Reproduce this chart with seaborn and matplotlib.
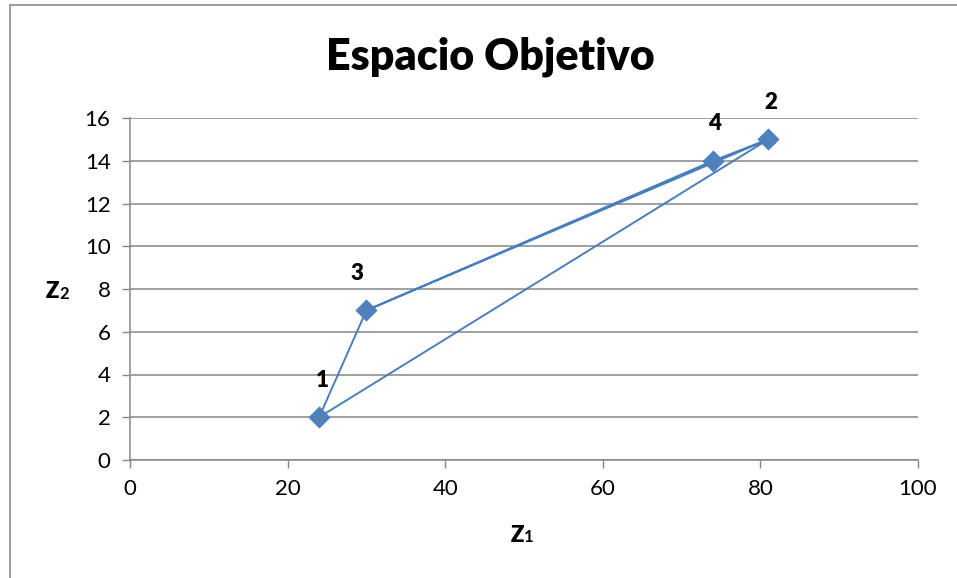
import matplotlib
matplotlib.use("Agg")
import matplotlib.pyplot as plt
import seaborn as sns
import pandas as pd
from matplotlib.patches import Rectangle

# Objective-space solutions (Z1, Z2) and the order in which they are joined
point_ids = ["1", "2", "3", "4"]
z1 = [24, 81, 30, 74]
z2 = [2, 15, 7, 14]
path_order = ["3", "1", "2", "4", "3", "2"]

x_ticks = [0, 20, 40, 60, 80, 100]
y_ticks = [0, 2, 4, 6, 8, 10, 12, 14, 16]
title = "Espacio Objetivo"
x_label = ("Z", "1")
y_label = ("Z", "2")

points = pd.DataFrame({"id": point_ids, "z1": z1, "z2": z2})
path = points.set_index("id").loc[path_order].reset_index()

sns.set_theme(style="white")
plt.rcParams["font.family"] = ["Lato", "DejaVu Sans"]
plt.rcParams["text.color"] = "black"

blue = "#4A7EBB"
marker_blue = "#4F81BD"
grid_gray = "#868686"

fig = plt.figure(figsize=(9.57, 5.78), dpi=100)
ax = fig.add_axes([130 / 957, 1 - 460 / 578, (918 - 130) / 957, (460 - 118) / 578])

sns.lineplot(data=path, x="z1", y="z2", sort=False, estimator=None,
             color=blue, linewidth=1.4, ax=ax, zorder=3)
sns.scatterplot(data=points, x="z1", y="z2", marker="D", s=110,
                color=marker_blue, edgecolor=blue, linewidth=0.8, ax=ax, zorder=4)

label_offsets = {"1": (2, 19), "2": (2, 19), "3": (-7, 19), "4": (1, 19)}
for pid, x, y in zip(point_ids, z1, z2):
    dx, dy = label_offsets[pid]
    ax.annotate(pid, (x, y), xytext=(dx, dy), textcoords="offset points",
                ha="center", va="bottom", fontsize=16, fontweight="heavy",
                color="black")

ax.set_xlim(x_ticks[0], x_ticks[-1])
ax.set_ylim(y_ticks[0], y_ticks[-1])
ax.set_xticks(x_ticks)
ax.set_yticks(y_ticks)
ax.tick_params(axis="both", labelsize=16, colors=grid_gray, labelcolor="black",
               length=6, width=1, direction="out", pad=8)
ax.tick_params(axis="x", bottom=True)
ax.tick_params(axis="y", left=True)
ax.yaxis.grid(True, color=grid_gray, linewidth=1.1)
ax.xaxis.grid(False)
ax.set_axisbelow(True)
for side in ["top", "right"]:
    ax.spines[side].set_visible(False)
for side in ["left", "bottom"]:
    ax.spines[side].set_color(grid_gray)
    ax.spines[side].set_linewidth(1.1)

ax.set_xlabel("")
ax.set_ylabel("")


def axis_name(x_px, y_px, parts):
    """Bold letter followed by a smaller index digit, centred on (x_px, y_px)."""
    letter, index = parts
    fig.text((x_px - 3) / 957, 1 - y_px / 578, letter, ha="right", va="center",
             fontsize=16, fontweight="heavy", color="black")
    fig.text((x_px - 3) / 957, 1 - (y_px + 2) / 578, index, ha="left", va="center",
             fontsize=12, fontweight="bold", color="black")


axis_name(527, 535, x_label)
axis_name(62, 292, y_label)
fig.text(490 / 957, 1 - 57 / 578, title, ha="center", va="center",
         fontsize=31, fontweight="heavy", color="black")

# chart-area frame
fig.patches.append(Rectangle((10 / 957, -0.1), 1.2, 1 - 5 / 578 + 0.1,
                             transform=fig.transFigure, fill=False,
                             edgecolor="#8C8C8C", linewidth=1.2))

fig.savefig("out.png", dpi=100)
